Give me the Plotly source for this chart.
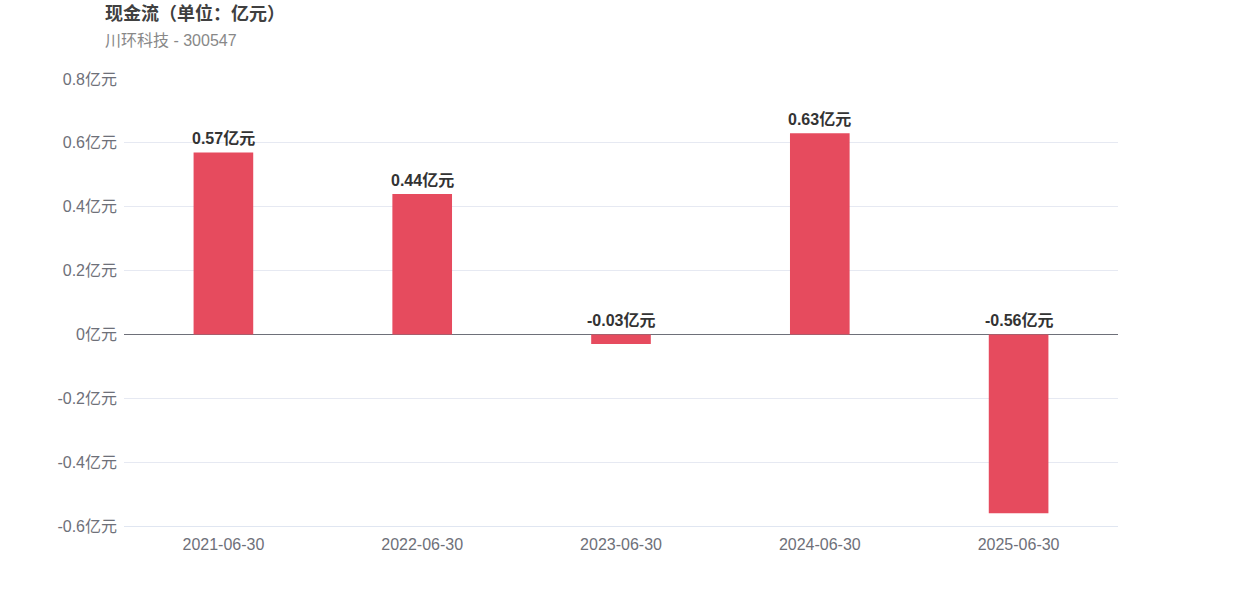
import plotly.graph_objects as go

categories = ["2021-06-30", "2022-06-30", "2023-06-30", "2024-06-30", "2025-06-30"]
values = [0.57, 0.44, -0.03, 0.63, -0.56]
labels = ["0.57亿元", "0.44亿元", "-0.03亿元", "0.63亿元", "-0.56亿元"]
y_tick_vals = [-0.6, -0.4, -0.2, 0, 0.2, 0.4, 0.6, 0.8]
y_tick_text = ["-0.6亿元", "-0.4亿元", "-0.2亿元", "0亿元", "0.2亿元", "0.4亿元", "0.6亿元", "0.8亿元"]

FONT = "Liberation Sans, Arial, Noto Sans CJK SC, sans-serif"

# plot area in screen pixels: x 124..1118, y 79..526 (body margin removed)
ML, MR, MT, MB = 124, 124, 79, 70
W, H = 1242, 596

fig = go.Figure()
fig.add_trace(go.Bar(
    x=categories, y=values,
    marker=dict(color="#e64b5e", line=dict(width=0)),
    width=0.3,
    hoverinfo="x+y",
))

for c, v, t in zip(categories, values, labels):
    fig.add_annotation(
        x=c, y=max(v, 0), text="<b>" + t + "</b>", showarrow=False,
        yanchor="bottom", yshift=3, xref="x", yref="y",
        font=dict(family=FONT, size=16, color="#333333"),
    )

def px_to_paper(sx, sy):
    x = (sx - ML) / (W - ML - MR)
    y = ((H - sy) - MB) / (H - MT - MB)
    return x, y

tx, ty = px_to_paper(103, 13)
fig.add_annotation(
    x=tx, y=ty, xref="paper", yref="paper", text="<b>现金流（单位：亿元）</b>",
    showarrow=False, xanchor="left", yanchor="middle",
    font=dict(family=FONT, size=18, color="#404040"),
)
sx, sy = px_to_paper(103, 40)
fig.add_annotation(
    x=sx, y=sy, xref="paper", yref="paper", text="川环科技 - 300547",
    showarrow=False, xanchor="left", yanchor="middle",
    font=dict(family=FONT, size=16, color="#888888"),
)

fig.update_layout(
    width=W, height=H,
    margin=dict(l=ML, r=MR, t=MT, b=MB),
    paper_bgcolor="white", plot_bgcolor="white",
    showlegend=False,
    font=dict(family=FONT),
    xaxis=dict(
        type="category",
        showgrid=False, showline=True, linecolor="#e0e6f1", linewidth=1,
        ticks="", tickfont=dict(size=16, color="#6e7079"),
        ticklabelstandoff=4,
    ),
    yaxis=dict(
        range=[-0.6, 0.8], tickvals=y_tick_vals, ticktext=y_tick_text,
        showgrid=True, gridcolor="#e6e9f2", gridwidth=1,
        zeroline=True, zerolinecolor="#6e7079", zerolinewidth=1,
        tickfont=dict(size=16, color="#6e7079"), ticks="",
        ticklabelstandoff=6,
    ),
)

fig.write_html("out.html", config={"displayModeBar": False},
               post_script="document.body.style.margin='0';")
